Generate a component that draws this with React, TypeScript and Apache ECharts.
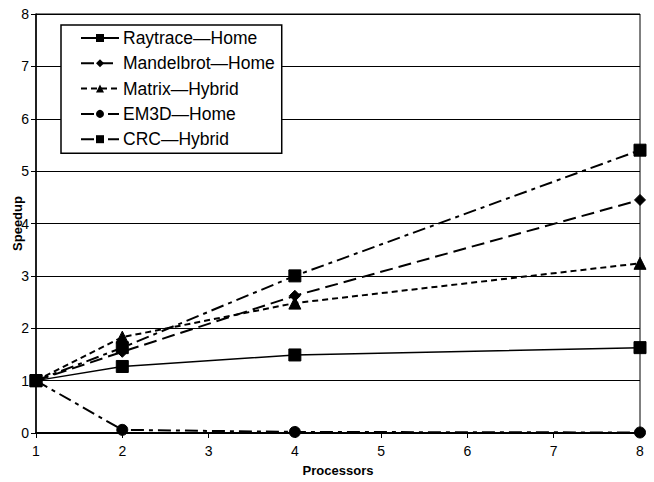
import React, { useEffect, useRef } from "react";
import * as echarts from "echarts";

const processors = [1, 2, 4, 8];
const raytrace = [1, 1.27, 1.49, 1.63];
const mandelbrot = [1, 1.55, 2.62, 4.45];
const matrix = [1, 1.83, 2.48, 3.24];
const em3d = [1, 0.06, 0.02, 0.01];
const crc = [1, 1.63, 3.0, 5.4];
const seriesNames = ["Raytrace—Home", "Mandelbrot—Home", "Matrix—Hybrid", "EM3D—Home", "CRC—Hybrid"];

const FONT = "'Liberation Sans', Arial, sans-serif";

export default function App() {
  const ref = useRef<HTMLDivElement>(null);
  useEffect(() => {
    if (!ref.current) return;
    const chart = echarts.init(ref.current, undefined, { renderer: "svg" });
    const mk = (name: string, vals: number[], symbol: string, size: number, dash: any, width: number) => ({
      name,
      type: "line",
      data: processors.map((p, i) => [p, vals[i]]),
      symbol,
      symbolSize: size,
      showSymbol: true,
      lineStyle: { color: "#000", width, type: dash },
      itemStyle: { color: "#000", borderColor: "#000" },
      z: 3,
    });
    chart.setOption({
      animation: false,
      textStyle: { fontFamily: FONT },
      grid: {
        left: 36, right: 14, top: 14, bottom: 49,
        outerBoundsMode: "none",
        containLabel: false,
        show: true, borderColor: "#000", borderWidth: 1, backgroundColor: "transparent",
      },
      legend: {
        orient: "vertical",
        left: 61,
        top: 25,
        backgroundColor: "#fff",
        borderColor: "#000",
        borderWidth: 1.5,
        borderRadius: 0,
        padding: [4, 7, 5, 19],
        itemGap: 7.3,
        itemWidth: 38,
        itemHeight: 10,
        textStyle: { fontFamily: FONT, fontSize: 17.5, lineHeight: 18, color: "#000", padding: [0, 0, 0, -1] },
        data: seriesNames,
      },
      xAxis: {
        type: "value",
        min: 1,
        max: 8,
        interval: 1,
        name: "Processors",
        nameLocation: "middle",
        nameGap: 31,
        nameMoveOverlap: false,
        nameTextStyle: { fontFamily: FONT, fontWeight: "bold", fontSize: 13, color: "#000" },
        axisLine: { lineStyle: { color: "#000", width: 2 } },
        axisTick: { show: true, length: 5, lineStyle: { color: "#000" } },
        axisLabel: { fontFamily: FONT, fontSize: 14, color: "#000", margin: 11 },
        splitLine: { show: false },
      },
      yAxis: {
        type: "value",
        min: 0,
        max: 8,
        interval: 1,
        name: "Speedup",
        nameLocation: "middle",
        nameGap: 12,
        nameMoveOverlap: false,
        nameTextStyle: { fontFamily: FONT, fontWeight: "bold", fontSize: 13, color: "#000" },
        axisLine: { show: true, lineStyle: { color: "#000", width: 1.5 } },
        axisTick: { show: true, length: 5, lineStyle: { color: "#000" } },
        axisLabel: { fontFamily: FONT, fontSize: 14, color: "#000", margin: 7 },
        splitLine: { show: true, lineStyle: { color: "#000", width: 1 } },
      },
      series: [
        mk(seriesNames[0], raytrace, "rect", 12, "solid", 1.5),
        mk(seriesNames[1], mandelbrot, "diamond", 11, [13, 6], 2),
        mk(seriesNames[2], matrix, "triangle", 12, [6, 4], 2),
        mk(seriesNames[3], em3d, "circle", 11, [13, 5, 4, 5], 2),
        mk(seriesNames[4], crc, "rect", 12, [13, 5, 4, 5], 2),
      ],
    });
    return () => chart.dispose();
  }, []);
  return <div ref={ref} style={{ width: 654, height: 482, position: "absolute", left: 0, top: 0 }} />;
}
